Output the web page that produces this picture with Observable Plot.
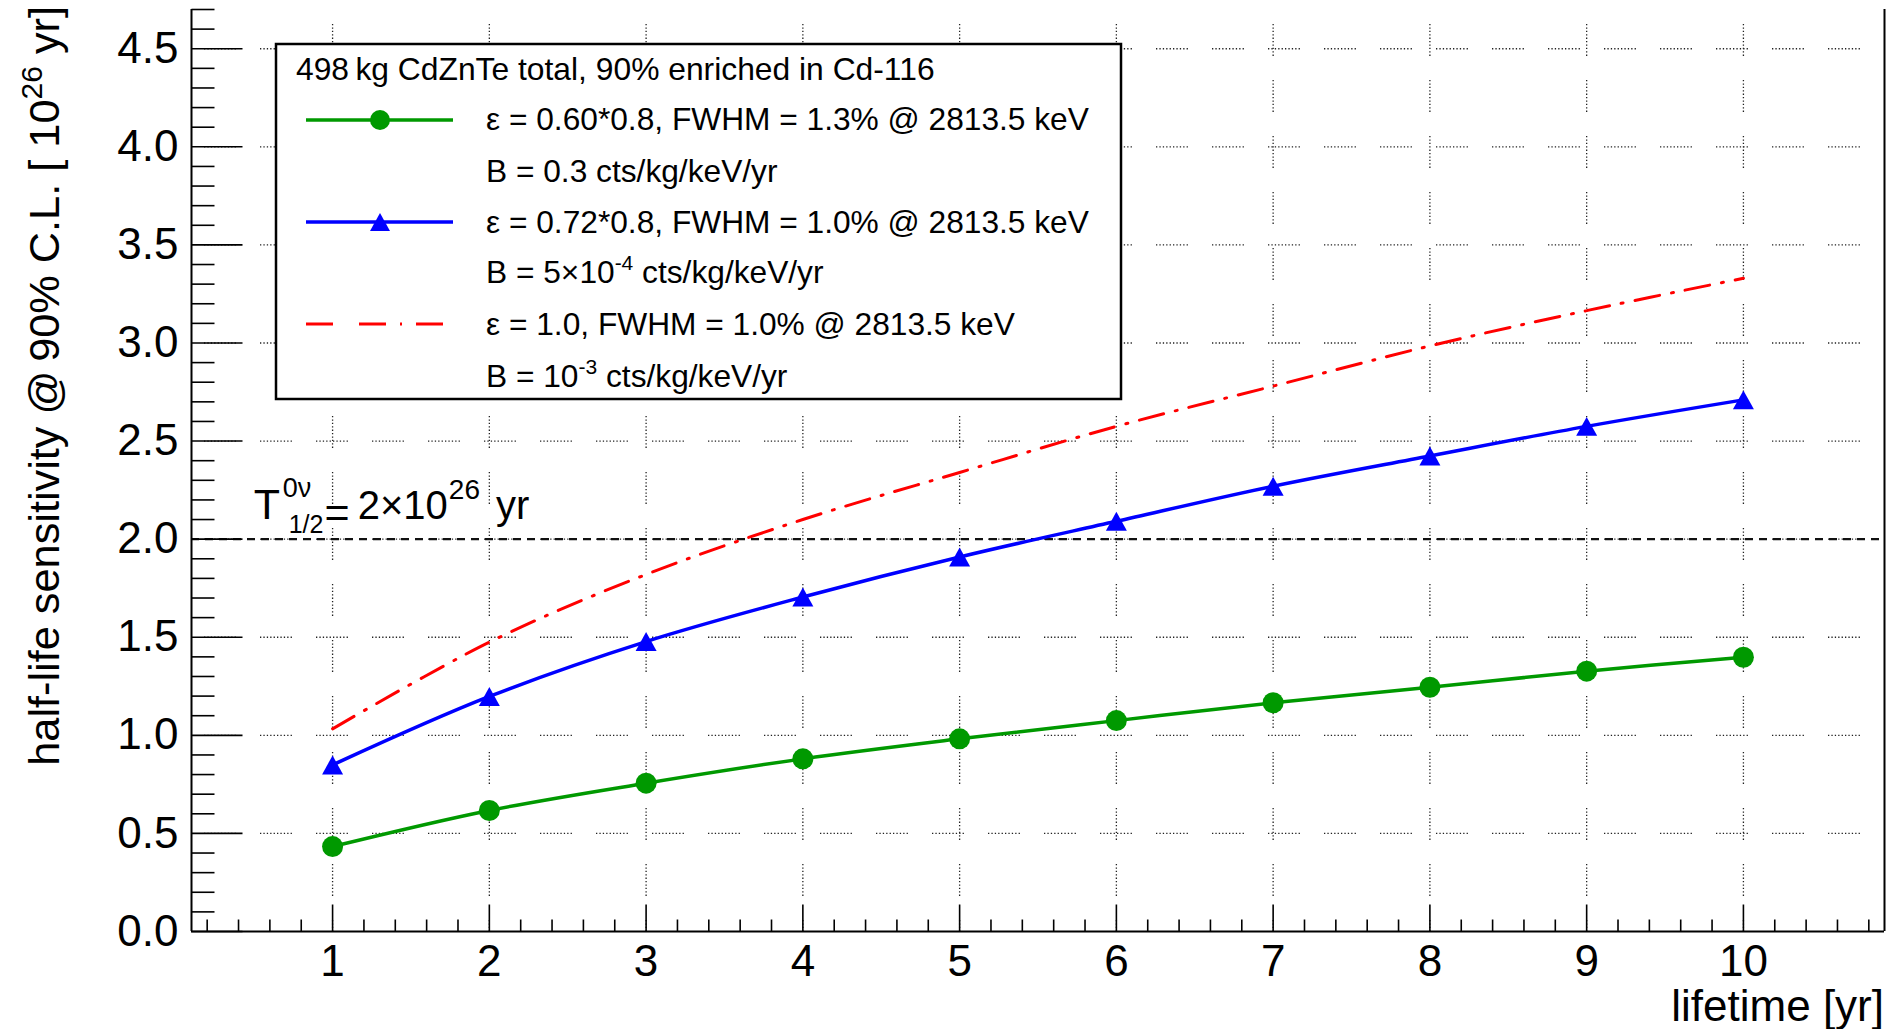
<!DOCTYPE html>
<html>
<head>
<meta charset="utf-8">
<script src="https://cdn.jsdelivr.net/npm/d3@7"></script>
<script src="https://cdn.jsdelivr.net/npm/@observablehq/plot@0.6"></script>
<style>
  html, body { margin: 0; padding: 0; background: #fff; }
  #chart svg { display: block; }
</style>
</head>
<body>
<div id="chart"></div>
<script>
// Half-life sensitivity (90% C.L., units of 1e26 yr) versus detector lifetime
const lifetime = [1, 2, 3, 4, 5, 6, 7, 8, 9, 10];
const sensGreen = [0.433, 0.617, 0.756, 0.880, 0.982, 1.075, 1.166, 1.245, 1.327, 1.398];
const sensBlue  = [0.849, 1.198, 1.478, 1.705, 1.909, 2.091, 2.270, 2.424, 2.575, 2.710];
const sensRed   = [1.033, 1.475, 1.820, 2.100, 2.340, 2.575, 2.780, 2.985, 3.165, 3.330];
const targetHalfLife = 2.0;

// Axis ticks and labels
const xMajorTicks = [1, 2, 3, 4, 5, 6, 7, 8, 9, 10];
const xMinorTicks = d3.range(1, 55).map(i => +(i * 0.2).toFixed(1)).filter(v => !Number.isInteger(v));
const yMajorTicks = [0, 0.5, 1, 1.5, 2, 2.5, 3, 3.5, 4, 4.5];
const yMinorTicks = d3.range(1, 48).map(i => +(i * 0.1).toFixed(1)).filter(v => Math.abs(v * 2 - Math.round(v * 2)) > 1e-9);
const yTickLabels = ["0.0", "0.5", "1.0", "1.5", "2.0", "2.5", "3.0", "3.5", "4.0", "4.5"];
const xTickLabels = ["1", "2", "3", "4", "5", "6", "7", "8", "9", "10"];
const xGrid = [1, 2, 3, 4, 5, 6, 7, 8, 9, 10];
const yGrid = [0.5, 1, 1.5, 2, 2.5, 3, 3.5, 4, 4.5];

const xDomain = [0.1, 10.9];
const yDomain = [0, 4.7];

const legendTitle = "498\u2009kg CdZnTe total, 90% enriched in Cd-116";

const toRows = (ys) => lifetime.map((x, i) => ({x, y: ys[i]}));
const greenRows = toRows(sensGreen);
const blueRows = toRows(sensBlue);
const redRows = toRows(sensRed);

const GREEN = "#009900", BLUE = "#0000ff", RED = "#ff0000";
const FONT = "'Liberation Sans', Arial, Helvetica, sans-serif";

// ROOT-like dotted grid: runs of ten dots separated by a longer gap
function dotRun(period) {
  const a = [];
  for (let i = 0; i < 9; i++) a.push(1.3, 2.1);
  a.push(1.3, period - 9 * 3.4 - 1.3);
  return a.join(",");
}
const GRID_PERIOD = 56;

// Tick marks drawn as symbols so their length is in pixels
const tickUp = {draw(ctx, size) { const l = Math.sqrt(size / Math.PI); ctx.moveTo(0, 0); ctx.lineTo(0, -l); }};
const tickRight = {draw(ctx, size) { const l = Math.sqrt(size / Math.PI); ctx.moveTo(0, 0); ctx.lineTo(l, 0); }};
// Upward triangle centred on its bounding box
const triangleUp = {draw(ctx, size) {
  const r = Math.sqrt(size / Math.PI);
  ctx.moveTo(0, -0.9 * r); ctx.lineTo(r, 0.9 * r); ctx.lineTo(-r, 0.9 * r); ctx.closePath();
}};

const chart = Plot.plot({
  width: 1897,
  height: 1029,
  marginLeft: 191,
  marginRight: 13,
  marginTop: 9,
  marginBottom: 98,
  style: {fontFamily: FONT, fontSize: "44px", background: "white", overflow: "visible", color: "black"},
  x: {domain: xDomain, axis: null},
  y: {domain: yDomain, axis: null},
  marks: [
    // grid
    Plot.ruleX(xGrid, {x: d => d, stroke: "#222", strokeWidth: 1.3,
      strokeDasharray: dotRun(GRID_PERIOD), strokeDashoffset: GRID_PERIOD - 15}),
    Plot.ruleY(yGrid, {y: d => d, stroke: "#222", strokeWidth: 1.3,
      strokeDasharray: dotRun(GRID_PERIOD), strokeDashoffset: GRID_PERIOD - 13}),
    // reference half-life
    Plot.ruleY([targetHalfLife], {y: d => d, stroke: "#111", strokeWidth: 2.2, strokeDasharray: "8,6"}),
    // sensitivity curves
    Plot.line(redRows, {x: "x", y: "y", stroke: RED, strokeWidth: 3, curve: "catmull-rom",
      strokeDasharray: "25,12,2,12"}),
    Plot.line(blueRows, {x: "x", y: "y", stroke: BLUE, strokeWidth: 3.5, curve: "catmull-rom"}),
    Plot.line(greenRows, {x: "x", y: "y", stroke: GREEN, strokeWidth: 3.5, curve: "catmull-rom"}),
    Plot.dot(blueRows, {x: "x", y: "y", r: 10.5, symbol: triangleUp, fill: BLUE, stroke: "none"}),
    Plot.dot(greenRows, {x: "x", y: "y", r: 10.5, symbol: "circle", fill: GREEN, stroke: "none"}),
    // frame lines
    Plot.ruleX([xDomain[0], xDomain[1]], {x: d => d, stroke: "black", strokeWidth: 2}),
    Plot.ruleY([yDomain[0]], {y: d => d, stroke: "black", strokeWidth: 2}),
    // ticks
    Plot.dot(xMajorTicks, {x: d => d, y: () => 0, r: 27, symbol: tickUp, stroke: "black", strokeWidth: 1.6, fill: "none"}),
    Plot.dot(xMinorTicks, {x: d => d, y: () => 0, r: 12, symbol: tickUp, stroke: "black", strokeWidth: 1.6, fill: "none"}),
    Plot.dot(yMajorTicks, {x: () => xDomain[0], y: d => d, r: 51, symbol: tickRight, stroke: "black", strokeWidth: 1.6, fill: "none"}),
    Plot.dot(yMinorTicks, {x: () => xDomain[0], y: d => d, r: 23, symbol: tickRight, stroke: "black", strokeWidth: 1.6, fill: "none"}),
    // tick labels
    Plot.text(xMajorTicks, {x: d => d, y: () => 0, text: (d, i) => xTickLabels[i], dy: 30,
      lineAnchor: "middle", textAnchor: "middle", fontSize: 44, fill: "black"}),
    Plot.text(yMajorTicks, {x: () => xDomain[0], y: d => d, text: (d, i) => yTickLabels[i], dx: -13,
      lineAnchor: "middle", textAnchor: "end", fontSize: 44, fill: "black"})
  ]
});

document.getElementById("chart").appendChild(chart);

const svg = d3.select(chart);
const sx = chart.scale("x"), sy = chart.scale("y");
const x1 = sx.apply(xDomain[1]);
const yBottom = sy.apply(yDomain[0]), yTop = sy.apply(yDomain[1]);

// axis titles
svg.append("text")
  .attr("font-family", FONT).attr("font-size", 44).attr("text-anchor", "end").attr("fill", "black")
  .attr("x", x1).attr("y", yBottom + 90)
  .text("lifetime [yr]");

const yt = svg.append("text")
  .attr("font-family", FONT).attr("font-size", 43.3).attr("text-anchor", "end").attr("fill", "black")
  .attr("transform", `translate(59,${yTop - 3}) rotate(-90)`);
yt.append("tspan").text("half-life sensitivity @\u200990% C.L. [ 10");
yt.append("tspan").attr("font-size", 30).attr("dy", -17).text("26");
yt.append("tspan").attr("dy", 17).text(" yr]");

// T_{1/2}^{0ν} = 2×10^26 yr annotation
const ax = sx.apply(0.5), ay = sy.apply(2.1);
const ann = svg.append("g").attr("font-family", FONT).attr("fill", "black").attr("text-anchor", "start");
ann.append("text").attr("x", ax).attr("y", ay).attr("font-size", 43).text("T");
ann.append("text").attr("x", ax + 29).attr("y", ay - 22).attr("font-size", 27).text("0\u03bd");
const sub = ann.append("text").attr("x", ax + 35).attr("y", ay + 14).attr("font-size", 25).text("1/2");
const subEnd = ax + 35 + sub.node().getComputedTextLength();
ann.append("text").attr("x", subEnd + 1).attr("y", ay + 8).attr("font-size", 43).text("=");
const mant = ann.append("text").attr("x", ax + 104).attr("y", ay).attr("font-size", 40).text("2\u00d710");
const mantEnd = ax + 104 + mant.node().getComputedTextLength();
const expo = ann.append("text").attr("x", mantEnd + 1).attr("y", ay - 20).attr("font-size", 28).text("26");
const expoEnd = mantEnd + 1 + expo.node().getComputedTextLength();
ann.append("text").attr("x", expoEnd + 16).attr("y", ay).attr("font-size", 40).text("yr");

// legend box
const L = {x: 276, y: 44, w: 845, h: 355};
const lg = svg.append("g").attr("transform", `translate(${L.x},${L.y})`)
  .attr("font-family", FONT).attr("font-size", 31.7).attr("text-anchor", "start").attr("fill", "black");
lg.append("rect").attr("width", L.w).attr("height", L.h).attr("fill", "white").attr("stroke", "black").attr("stroke-width", 2.5);
lg.append("text").attr("x", 20).attr("y", 36).attr("font-size", 31.8).text(legendTitle);

const sampleX1 = 30, sampleX2 = 177, markX = 104, textX = 210;
// green entry
lg.append("line").attr("x1", sampleX1).attr("x2", sampleX2).attr("y1", 76).attr("y2", 76).attr("stroke", GREEN).attr("stroke-width", 3.5);
lg.append("circle").attr("cx", markX).attr("cy", 76).attr("r", 10).attr("fill", GREEN);
lg.append("text").attr("x", textX).attr("y", 86).text("\u03b5 = 0.60*0.8, FWHM = 1.3% @ 2813.5 keV");
lg.append("text").attr("x", textX).attr("y", 138).text("B = 0.3 cts/kg/keV/yr");
// blue entry
lg.append("line").attr("x1", sampleX1).attr("x2", sampleX2).attr("y1", 178).attr("y2", 178).attr("stroke", BLUE).attr("stroke-width", 3.5);
lg.append("path").attr("d", d3.symbol(triangleUp, Math.PI * 100)()).attr("transform", `translate(${markX},178)`).attr("fill", BLUE);
lg.append("text").attr("x", textX).attr("y", 189).text("\u03b5 = 0.72*0.8, FWHM = 1.0% @ 2813.5 keV");
const b2 = lg.append("text").attr("x", textX).attr("y", 239);
b2.append("tspan").text("B = 5\u00d710");
b2.append("tspan").attr("font-size", 21).attr("dy", -13).text("-4");
b2.append("tspan").attr("dy", 13).text(" cts/kg/keV/yr");
// red entry
lg.append("line").attr("x1", sampleX1).attr("x2", sampleX2).attr("y1", 280).attr("y2", 280).attr("stroke", RED).attr("stroke-width", 3).attr("stroke-dasharray", "27,26,27,14,2,14");
lg.append("text").attr("x", textX).attr("y", 291).text("\u03b5 = 1.0, FWHM = 1.0% @ 2813.5 keV");
const b3 = lg.append("text").attr("x", textX).attr("y", 343);
b3.append("tspan").text("B = 10");
b3.append("tspan").attr("font-size", 21).attr("dy", -13).text("-3");
b3.append("tspan").attr("dy", 13).text(" cts/kg/keV/yr");
</script>
</body>
</html>
